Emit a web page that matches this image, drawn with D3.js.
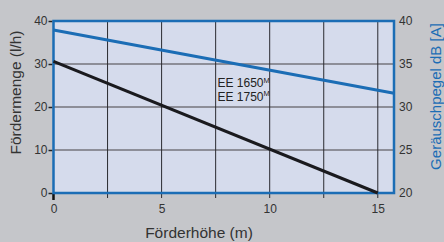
<!DOCTYPE html>
<html><head><meta charset="utf-8">
<script src="https://cdn.jsdelivr.net/npm/d3@7"></script>
<style>
html,body{margin:0;padding:0;background:#c5c6ca;overflow:hidden}
svg{display:block}
</style></head>
<body>
<svg id="c" width="444" height="242"></svg>
<script>
// Data
const headX = [0, 15];                 // Förderhöhe (m) for flow line
const flowValues = [30.6, 0];          // Fördermenge (l/h)
const noiseX = [0, 15.75];             // Förderhöhe (m) for noise line
const noiseValues = [38.95, 31.6];     // Geräuschpegel dB [A]
const xTicks = [0, 5, 10, 15];
const xGrid = [2.5, 5, 7.5, 10, 12.5, 15];
const yLeftTicks = [0, 10, 20, 30, 40];
const yRightTicks = [20, 25, 30, 35, 40];
const labels = ["EE 1650", "EE 1750"];

const svg = d3.select("#c");
const L = 53.5, R = 394, T = 21, B = 193;
const x = d3.scaleLinear().domain([0, 15.75]).range([L, R]);
const yL = d3.scaleLinear().domain([0, 40]).range([B, T]);
const yR = d3.scaleLinear().domain([20, 40]).range([B, T]);
const blue = "#1b6db5";
const font = "'Liberation Sans Narrow','Arial Narrow','Liberation Sans',Arial,sans-serif";

svg.append("rect").attr("x", L).attr("y", T).attr("width", R - L).attr("height", B - T).attr("fill", "#d5dbec");

// horizontal grid
svg.append("g").selectAll("line").data([10, 20, 30]).join("line")
  .attr("x1", L).attr("x2", R).attr("y1", d => yL(d)).attr("y2", d => yL(d))
  .attr("stroke", "#74747c").attr("stroke-width", 1.5);
// vertical grid (extends below)
svg.append("g").selectAll("line").data(xGrid).join("line")
  .attr("x1", d => x(d)).attr("x2", d => x(d)).attr("y1", T).attr("y2", B + 5)
  .attr("stroke", "#2a2a30").attr("stroke-width", 1);

// left axis ticks
const gl = svg.append("g").attr("transform", `translate(${L - 1},0)`)
  .call(d3.axisLeft(yL).tickValues(yLeftTicks).tickSize(4).tickPadding(1).tickFormat(d3.format("d")));
gl.select(".domain").remove();
gl.selectAll(".tick line").attr("stroke", "#222").attr("stroke-width", 1.5);
gl.selectAll("text").attr("font-family", font).attr("font-size", 12).attr("fill", "#333");

// right axis labels
const gr = svg.append("g").attr("transform", `translate(${R},0)`)
  .call(d3.axisRight(yR).tickValues(yRightTicks).tickSize(0).tickPadding(5).tickFormat(d3.format("d")));
gr.select(".domain").remove();
gr.selectAll("text").attr("font-family", font).attr("font-size", 12).attr("fill", "#333");

// bottom axis labels
const gb = svg.append("g").attr("transform", `translate(0,${B})`)
  .call(d3.axisBottom(x).tickValues(xTicks).tickSize(0).tickPadding(11).tickFormat(d3.format("d")));
gb.select(".domain").remove();
gb.selectAll("text").attr("font-family", font).attr("font-size", 12).attr("fill", "#333");
svg.append("line").attr("x1", x(0)).attr("x2", x(0)).attr("y1", B).attr("y2", B + 7)
  .attr("stroke", "#111").attr("stroke-width", 2.5);

// border
svg.append("rect").attr("x", L).attr("y", T).attr("width", R - L).attr("height", B - T)
  .attr("fill", "none").attr("stroke", blue).attr("stroke-width", 2.5);

// lines
const lineL = d3.line().x(d => x(d[0])).y(d => yL(d[1]));
const lineR = d3.line().x(d => x(d[0])).y(d => yR(d[1]));
svg.append("path").datum(headX.map((h, i) => [h, flowValues[i]])).attr("d", lineL)
  .attr("fill", "none").attr("stroke", "#1a1a1e").attr("stroke-width", 3);
svg.append("path").datum(noiseX.map((h, i) => [h, noiseValues[i]])).attr("d", lineR)
  .attr("fill", "none").attr("stroke", blue).attr("stroke-width", 3);

// annotation
labels.forEach((t, i) => {
  const tx = svg.append("text").attr("x", 217.5).attr("y", 87 + i * 13.5)
    .attr("font-family", "'Liberation Sans',Arial,sans-serif").attr("font-size", 12).attr("fill", "#222");
  tx.append("tspan").text(t);
  tx.append("tspan").attr("dy", -4.5).attr("font-size", 7.5).text("M");
});

// axis titles
svg.append("text").attr("transform", "translate(20.5,92.5) rotate(-90)").attr("text-anchor", "middle")
  .attr("font-family", "'Liberation Sans',Arial,sans-serif").attr("font-size", 15.5).attr("fill", "#333")
  .text("Fördermenge (l/h)");
svg.append("text").attr("transform", "translate(440.5,96.5) rotate(-90)").attr("text-anchor", "middle")
  .attr("font-family", "'Liberation Sans',Arial,sans-serif").attr("font-size", 15).attr("fill", blue)
  .text("Geräuschpegel dB [A]");
svg.append("text").attr("x", 199).attr("y", 237.5).attr("text-anchor", "middle")
  .attr("font-family", "'Liberation Sans',Arial,sans-serif").attr("font-size", 15.5).attr("fill", "#333")
  .text("Förderhöhe (m)");
</script>
</body></html>
